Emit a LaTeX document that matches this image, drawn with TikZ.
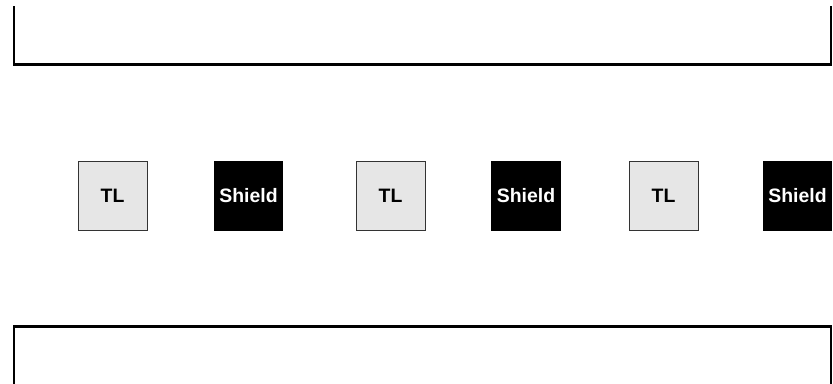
\documentclass[tikz,border=0pt]{standalone}
\usepackage{fontspec}
\setmainfont{Liberation Sans}
\definecolor{tlgray}{HTML}{E6E6E6}
\definecolor{tlborder}{HTML}{333333}
\begin{document}
\begin{tikzpicture}[x=1bp, y=-1bp, every node/.style={minimum size=70bp-\pgflinewidth, outer sep=0pt, inner sep=0pt, font=\bfseries\fontsize{19.5}{22}\selectfont},
    tlbox/.style={draw=tlborder, fill=tlgray, line width=0.8bp},
    shieldbox/.style={fill=black, text=white},
    plate/.style={line width=2.6bp, line cap=rect}]
    \useasboundingbox (0,0) rectangle (833,383);
    % upper and lower plates
    \draw[plate] (14,7) -- (14,64.5) -- (831,64.5) -- (831,7);
    \draw[plate] (14,390) -- (14,326.5) -- (831,326.5) -- (831,390);
    % alternating lines and shields
    \node[tlbox](tl1) at (112.5,196) {TL};
    \node[shieldbox](sh1) at (248.5,196) {Shield};
    \node[tlbox](tl2) at (390.5,196) {TL};
    \node[shieldbox](sh2) at (526,196) {Shield};
    \node[tlbox](tl3) at (663.5,196) {TL};
    \node[shieldbox](sh3) at (797.5,196) {Shield};
\end{tikzpicture}
\end{document}
